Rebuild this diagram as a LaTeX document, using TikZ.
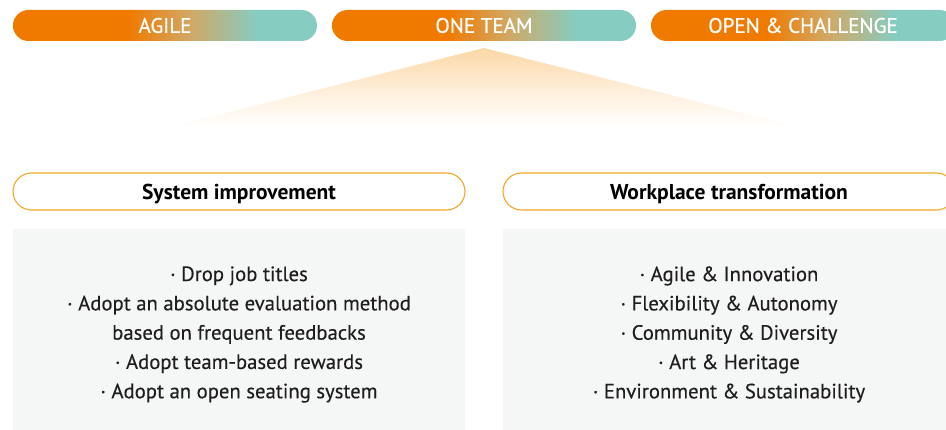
\documentclass[tikz,border=0pt]{standalone}
\usepackage{fontspec}
\setmainfont{PT Sans}
\newfontfamily\medfont[FakeBold=0.6]{PT Sans}
\newfontfamily\bodyfont[FakeBold=0.3]{PT Sans}
\definecolor{orgC}{RGB}{240,122,0}
\definecolor{tanC}{RGB}{210,168,100}
\definecolor{tealC}{RGB}{134,204,192}
\definecolor{lineC}{RGB}{245,166,35}
\definecolor{grayC}{RGB}{245,247,246}
\definecolor{triC}{RGB}{251,216,166}
\definecolor{txtC}{RGB}{30,30,30}
\pgfdeclarehorizontalshading{pillshade}{100bp}{color(0bp)=(orgC); color(25bp)=(orgC); color(44bp)=(orgC); color(54bp)=(tanC); color(65bp)=(tealC); color(75bp)=(tealC); color(100bp)=(tealC)}
\tikzset{
  pill/.style={minimum width=304pt, minimum height=31pt, rounded corners=15.5pt, shading=pillshade, text=white, inner sep=0pt, font=\medfont\fontsize{21}{24}\selectfont},
  headbox/.style={draw=lineC, line width=1.1pt, fill=white, rounded corners=18.5pt, minimum width=452pt, minimum height=37pt, inner sep=0pt, text=black, text height=17pt, text depth=0pt, font=\bfseries\fontsize{21.5}{24}\selectfont},
  graybox/.style={fill=grayC, minimum width=452pt, minimum height=201pt, inner sep=0pt},
  bodytext/.style={align=center, text=txtC, font=\bodyfont\fontsize{20.7}{29.3}\selectfont, inner sep=0pt}
}
\begin{document}
\begin{tikzpicture}[x=1pt,y=-1pt]
\useasboundingbox (0,0) rectangle (946,430);
\clip (0,0) rectangle (946,430);
% top pills
\node[pill] (agile) at (165,25.5) {AGILE};
\node[pill] (oneteam) at (484,25.5) {ONE TEAM};
\node[pill] (open) at (803,25.5) {OPEN \& CHALLENGE};
% fading triangle
\coordinate (apex) at (484,48);
\coordinate (bl) at (170,127);
\coordinate (br) at (798,127);
\shade[top color=triC, bottom color=white, middle color=triC!45] (apex) -- (br) -- (bl) -- cycle;
% headers
\node[headbox] (sys) at (239,191.5) {System improvement};
\node[headbox] (work) at (729,191.5) {Workplace transformation};
% gray boxes
\node[graybox] (lbox) at (239,329.5) {};
\node[graybox] (rbox) at (729,329.5) {};
\node[bodytext] (ltext) at (239,334.5) {· Drop job titles\\· Adopt an absolute evaluation method\\based on frequent feedbacks\\· Adopt team-based rewards\\· Adopt an open seating system};
\node[bodytext] (rtext) at (729,334.5) {· Agile \& Innovation\\· Flexibility \& Autonomy\\· Community \& Diversity\\· Art \& Heritage\\· Environment \& Sustainability};
\end{tikzpicture}
\end{document}
